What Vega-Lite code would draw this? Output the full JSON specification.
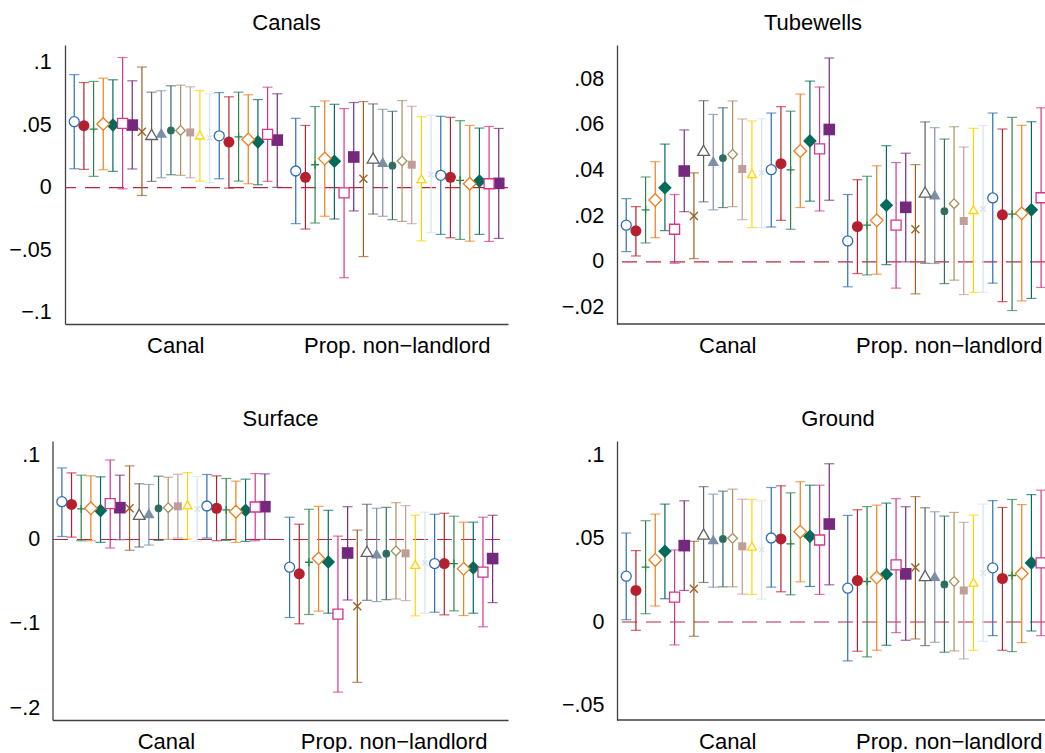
{
"$schema": "https://vega.github.io/schema/vega-lite/v6.json",
"padding": {"left": 8, "top": 12, "right": 0, "bottom": 0},
"columns": 1,
"align": "none",
"spacing": 52,
"bounds": "full",
"config": {
 "font": "Liberation Sans",
 "view": {"stroke": null},
 "axis": {"labelFont": "Liberation Sans", "labelColor": "#000", "ticks": false, "grid": false, "domainColor": "#404040", "domainWidth": 1.3},
 "axisX": {"labelFontSize": 22, "labelPadding": 11, "labelAngle": 0, "labelLimit": 0},
 "axisY": {"labelFontSize": 21.5},
 "title": {"font": "Liberation Sans", "fontSize": 22, "fontWeight": "normal", "color": "#000", "offset": 10, "frame": "group", "anchor": "middle"}
},
"concat": [
 {"hconcat": [
  {"title": {"text": "Canals"}, "width": 443, "height": 279, "data": {"name": "canals"},
   "layer": [
    {"data": {"values": [{}]}, "mark": {"type": "rule", "color": "#b8283c", "strokeWidth": 1.2, "strokeDash": [15, 9]},
     "encoding": {"y": {"datum": 0, "type": "quantitative", "scale": {"domain": [-0.109, 0.114], "nice": false, "zero": false}, "title": null,
      "axis": {"values": [-0.1, -0.05, 0, 0.05, 0.1], "labelExpr": "replace(replace(format(datum.value, '.2~f'), '0.', '.'), '-', '−')", "labelPadding": 13.8}}}},
    {"encoding": {
      "x": {"field": "g", "type": "nominal", "scale": {"domain": ["Canal", "Prop. non−landlord"], "paddingInner": 0.0398, "paddingOuter": 0.0199}, "title": null},
      "xOffset": {"field": "s", "type": "nominal", "scale": {"domain": [1,2,3,4,5,6,7,8,9,10,11,12,13,14,15,16,17,18,19,20,21,22], "paddingInner": 0, "paddingOuter": 0}},
      "color": {"field": "s", "type": "nominal", "scale": {"domain": [1,2,3,4,5,6,7,8,9,10,11,12,13,14,15,16,17,18,19,20,21,22], "range": ["#2c6db5","#b51f2e","#2a8449","#f07d1a","#006a5b","#d6338a","#74297f","#9a5f22","#5f5f5f","#7b8fa7","#2d6e60","#a6915f","#bf9d98","#ffd400","#d5e3ee","#2c6db5","#b51f2e","#2a8449","#f07d1a","#006a5b","#d6338a","#74297f"]}, "legend": null},
      "shape": {"field": "s", "type": "nominal", "legend": null, "scale": {"domain": [1,2,3,4,5,6,7,8,9,10,11,12,13,14,15,16,17,18,19,20,21,22], "range": ["circle","circle","M-1,0H1M0,-1V1","M-1,0L0,-1L1,0L0,1Z","M-1,0L0,-1L1,0L0,1Z","square","square","M-1,-1L1,1M-1,1L1,-1","triangle-up","triangle-up","circle","M-1,0L0,-1L1,0L0,1Z","square","triangle-up","M-1,-1L1,1M-1,1L1,-1","circle","circle","M-1,0H1M0,-1V1","M-1,0L0,-1L1,0L0,1Z","M-1,0L0,-1L1,0L0,1Z","square","square"]}},
      "size": {"field": "s", "type": "quantitative", "legend": null, "scale": {"type": "threshold", "domain": [1.5,2.5,3.5,4.5,5.5,6.5,7.5,8.5,9.5,10.5,11.5,12.5,13.5,14.5,15.5,16.5,17.5,18.5,19.5,20.5,21.5], "range": [100,121,64,160,185,100,135,64,137,130,60,94,64,81,30,100,121,64,160,185,100,135]}}
     },
     "layer": [
      {"mark": {"type": "rule", "strokeWidth": 1.2}, "encoding": {"y": {"field": "lo", "type": "quantitative", "scale": {"domain": [-0.109, 0.114], "nice": false, "zero": false}, "title": null}, "y2": {"field": "hi"}, "shape": null, "size": null}},
      {"mark": {"type": "tick", "orient": "horizontal", "size": 10, "thickness": 1.2}, "encoding": {"y": {"field": "lo", "type": "quantitative", "title": null}, "shape": null, "size": null}},
      {"mark": {"type": "tick", "orient": "horizontal", "size": 10, "thickness": 1.2}, "encoding": {"y": {"field": "hi", "type": "quantitative", "title": null}, "shape": null, "size": null}},
      {"transform": [{"filter": {"field": "s", "oneOf": [2,5,7,10,11,13,17,20,22]}}], "mark": {"type": "point", "filled": true, "opacity": 1, "strokeWidth": 0},
       "encoding": {"y": {"field": "b", "type": "quantitative", "title": null}}},
      {"transform": [{"filter": {"field": "s", "oneOf": [1,3,4,6,8,9,12,14,15,16,18,19,21]}}], "mark": {"type": "point", "filled": false, "fill": "white", "opacity": 1, "strokeWidth": 1.3},
       "encoding": {"y": {"field": "b", "type": "quantitative", "title": null}}}
     ]}
   ]},
  {"title": {"text": "Tubewells", "dx": -18}, "width": 428, "height": 279, "data": {"name": "tubewells"},
   "layer": [
    {"data": {"values": [{}]}, "mark": {"type": "rule", "color": "#b8283c", "strokeWidth": 1.2, "strokeDash": [15, 9]},
     "encoding": {"y": {"datum": 0, "type": "quantitative", "scale": {"domain": [-0.0272, 0.095], "nice": false, "zero": false}, "title": null,
      "axis": {"values": [-0.02, 0, 0.02, 0.04, 0.06, 0.08], "labelExpr": "replace(replace(format(datum.value, '.2~f'), '0.', '.'), '-', '−')", "labelPadding": 13.3}}}},
    {"data": {"values": [{}]}, "mark": {"type": "rule", "color": "#404040", "strokeWidth": 1.3},
     "encoding": {"y": {"datum": -0.0272, "type": "quantitative"}}},
    {"encoding": {
      "x": {"field": "g", "type": "nominal", "scale": {"domain": ["Canal", "Prop. non−landlord"], "paddingInner": 0.0398, "paddingOuter": 0.0199, "range": [0, 443]}, "title": null, "axis": {"domain": false}},
      "xOffset": {"field": "s", "type": "nominal", "scale": {"domain": [1,2,3,4,5,6,7,8,9,10,11,12,13,14,15,16,17,18,19,20,21,22], "paddingInner": 0, "paddingOuter": 0}},
      "color": {"field": "s", "type": "nominal", "scale": {"domain": [1,2,3,4,5,6,7,8,9,10,11,12,13,14,15,16,17,18,19,20,21,22], "range": ["#2c6db5","#b51f2e","#2a8449","#f07d1a","#006a5b","#d6338a","#74297f","#9a5f22","#5f5f5f","#7b8fa7","#2d6e60","#a6915f","#bf9d98","#ffd400","#d5e3ee","#2c6db5","#b51f2e","#2a8449","#f07d1a","#006a5b","#d6338a","#74297f"]}, "legend": null},
      "shape": {"field": "s", "type": "nominal", "legend": null, "scale": {"domain": [1,2,3,4,5,6,7,8,9,10,11,12,13,14,15,16,17,18,19,20,21,22], "range": ["circle","circle","M-1,0H1M0,-1V1","M-1,0L0,-1L1,0L0,1Z","M-1,0L0,-1L1,0L0,1Z","square","square","M-1,-1L1,1M-1,1L1,-1","triangle-up","triangle-up","circle","M-1,0L0,-1L1,0L0,1Z","square","triangle-up","M-1,-1L1,1M-1,1L1,-1","circle","circle","M-1,0H1M0,-1V1","M-1,0L0,-1L1,0L0,1Z","M-1,0L0,-1L1,0L0,1Z","square","square"]}},
      "size": {"field": "s", "type": "quantitative", "legend": null, "scale": {"type": "threshold", "domain": [1.5,2.5,3.5,4.5,5.5,6.5,7.5,8.5,9.5,10.5,11.5,12.5,13.5,14.5,15.5,16.5,17.5,18.5,19.5,20.5,21.5], "range": [100,121,64,160,185,100,135,64,137,130,60,94,64,81,30,100,121,64,160,185,100,135]}}
     },
     "layer": [
      {"mark": {"type": "rule", "strokeWidth": 1.2, "clip": true}, "encoding": {"y": {"field": "lo", "type": "quantitative", "scale": {"domain": [-0.0272, 0.095], "nice": false, "zero": false}, "title": null}, "y2": {"field": "hi"}, "shape": null, "size": null}},
      {"mark": {"type": "tick", "orient": "horizontal", "size": 10, "thickness": 1.2, "clip": true}, "encoding": {"y": {"field": "lo", "type": "quantitative", "title": null}, "shape": null, "size": null}},
      {"mark": {"type": "tick", "orient": "horizontal", "size": 10, "thickness": 1.2, "clip": true}, "encoding": {"y": {"field": "hi", "type": "quantitative", "title": null}, "shape": null, "size": null}},
      {"transform": [{"filter": {"field": "s", "oneOf": [2,5,7,10,11,13,17,20,22]}}], "mark": {"type": "point", "filled": true, "opacity": 1, "strokeWidth": 0, "clip": true},
       "encoding": {"y": {"field": "b", "type": "quantitative", "title": null}}},
      {"transform": [{"filter": {"field": "s", "oneOf": [1,3,4,6,8,9,12,14,15,16,18,19,21]}}], "mark": {"type": "point", "filled": false, "fill": "white", "opacity": 1, "strokeWidth": 1.3, "clip": true},
       "encoding": {"y": {"field": "b", "type": "quantitative", "title": null}}}
     ]}
   ]}
 ], "spacing": 109, "bounds": "flush"},
 {"hconcat": [
  {"title": {"text": "Surface", "dx": -6}, "width": 443, "height": 279, "data": {"name": "surface"},
   "encoding": {
      "x": {"field": "g", "type": "nominal", "scale": {"domain": ["Canal", "Prop. non−landlord"], "paddingInner": 0.0398, "paddingOuter": 0.0199, "range": [-12.5, 443]}, "title": null},
      "xOffset": {"field": "s", "type": "nominal", "scale": {"domain": [1,2,3,4,5,6,7,8,9,10,11,12,13,14,15,16,17,18,19,20,21,22], "paddingInner": 0, "paddingOuter": 0}},
      "color": {"field": "s", "type": "nominal", "scale": {"domain": [1,2,3,4,5,6,7,8,9,10,11,12,13,14,15,16,17,18,19,20,21,22], "range": ["#2c6db5","#b51f2e","#2a8449","#f07d1a","#006a5b","#d6338a","#74297f","#9a5f22","#5f5f5f","#7b8fa7","#2d6e60","#a6915f","#bf9d98","#ffd400","#d5e3ee","#2c6db5","#b51f2e","#2a8449","#f07d1a","#006a5b","#d6338a","#74297f"]}, "legend": null},
      "shape": {"field": "s", "type": "nominal", "legend": null, "scale": {"domain": [1,2,3,4,5,6,7,8,9,10,11,12,13,14,15,16,17,18,19,20,21,22], "range": ["circle","circle","M-1,0H1M0,-1V1","M-1,0L0,-1L1,0L0,1Z","M-1,0L0,-1L1,0L0,1Z","square","square","M-1,-1L1,1M-1,1L1,-1","triangle-up","triangle-up","circle","M-1,0L0,-1L1,0L0,1Z","square","triangle-up","M-1,-1L1,1M-1,1L1,-1","circle","circle","M-1,0H1M0,-1V1","M-1,0L0,-1L1,0L0,1Z","M-1,0L0,-1L1,0L0,1Z","square","square"]}},
      "size": {"field": "s", "type": "quantitative", "legend": null, "scale": {"type": "threshold", "domain": [1.5,2.5,3.5,4.5,5.5,6.5,7.5,8.5,9.5,10.5,11.5,12.5,13.5,14.5,15.5,16.5,17.5,18.5,19.5,20.5,21.5], "range": [100,121,64,160,185,100,135,64,137,130,60,94,64,81,30,100,121,64,160,185,100,135]}}
   },
   "layer": [
      {"mark": {"type": "rule", "strokeWidth": 1.2}, "encoding": {"y": {"field": "lo", "type": "quantitative", "scale": {"domain": [-0.214, 0.1166], "nice": false, "zero": false}, "title": null,
        "axis": {"values": [-0.2, -0.1, 0, 0.1], "labelExpr": "replace(replace(format(datum.value, '.2~f'), '0.', '.'), '-', '−')", "labelPadding": 12.9, "offset": 12.5,
         "grid": true, "gridColor": "#b8283c", "gridWidth": 1.2, "gridDash": [15, 9], "gridOpacity": {"condition": {"test": "datum.value === 0", "value": 1}, "value": 0}}}, "y2": {"field": "hi"}, "shape": null, "size": null}},
      {"mark": {"type": "tick", "orient": "horizontal", "size": 10, "thickness": 1.2}, "encoding": {"y": {"field": "lo", "type": "quantitative", "title": null}, "shape": null, "size": null}},
      {"mark": {"type": "tick", "orient": "horizontal", "size": 10, "thickness": 1.2}, "encoding": {"y": {"field": "hi", "type": "quantitative", "title": null}, "shape": null, "size": null}},
      {"transform": [{"filter": {"field": "s", "oneOf": [2,5,7,10,11,13,17,20,22]}}], "mark": {"type": "point", "filled": true, "opacity": 1, "strokeWidth": 0},
       "encoding": {"y": {"field": "b", "type": "quantitative", "title": null}}},
      {"transform": [{"filter": {"field": "s", "oneOf": [1,3,4,6,8,9,12,14,15,16,18,19,21]}}], "mark": {"type": "point", "filled": false, "fill": "white", "opacity": 1, "strokeWidth": 1.3},
       "encoding": {"y": {"field": "b", "type": "quantitative", "title": null}}}
   ]},
  {"title": {"text": "Ground", "dx": 7}, "width": 428, "height": 279, "data": {"name": "ground"},
   "layer": [
    {"data": {"values": [{}]}, "mark": {"type": "rule", "color": "#b8283c", "strokeWidth": 1.2, "strokeDash": [15, 9]},
     "encoding": {"y": {"datum": 0, "type": "quantitative", "scale": {"domain": [-0.059, 0.109], "nice": false, "zero": false}, "title": null,
      "axis": {"values": [-0.05, 0, 0.05, 0.1], "labelExpr": "replace(replace(format(datum.value, '.2~f'), '0.', '.'), '-', '−')", "labelPadding": 13}}}},
    {"data": {"values": [{}]}, "mark": {"type": "rule", "color": "#404040", "strokeWidth": 1.3},
     "encoding": {"y": {"datum": -0.059, "type": "quantitative"}}},
    {"encoding": {
      "x": {"field": "g", "type": "nominal", "scale": {"domain": ["Canal", "Prop. non−landlord"], "paddingInner": 0.0398, "paddingOuter": 0.0199, "range": [0, 443]}, "title": null, "axis": {"domain": false}},
      "xOffset": {"field": "s", "type": "nominal", "scale": {"domain": [1,2,3,4,5,6,7,8,9,10,11,12,13,14,15,16,17,18,19,20,21,22], "paddingInner": 0, "paddingOuter": 0}},
      "color": {"field": "s", "type": "nominal", "scale": {"domain": [1,2,3,4,5,6,7,8,9,10,11,12,13,14,15,16,17,18,19,20,21,22], "range": ["#2c6db5","#b51f2e","#2a8449","#f07d1a","#006a5b","#d6338a","#74297f","#9a5f22","#5f5f5f","#7b8fa7","#2d6e60","#a6915f","#bf9d98","#ffd400","#d5e3ee","#2c6db5","#b51f2e","#2a8449","#f07d1a","#006a5b","#d6338a","#74297f"]}, "legend": null},
      "shape": {"field": "s", "type": "nominal", "legend": null, "scale": {"domain": [1,2,3,4,5,6,7,8,9,10,11,12,13,14,15,16,17,18,19,20,21,22], "range": ["circle","circle","M-1,0H1M0,-1V1","M-1,0L0,-1L1,0L0,1Z","M-1,0L0,-1L1,0L0,1Z","square","square","M-1,-1L1,1M-1,1L1,-1","triangle-up","triangle-up","circle","M-1,0L0,-1L1,0L0,1Z","square","triangle-up","M-1,-1L1,1M-1,1L1,-1","circle","circle","M-1,0H1M0,-1V1","M-1,0L0,-1L1,0L0,1Z","M-1,0L0,-1L1,0L0,1Z","square","square"]}},
      "size": {"field": "s", "type": "quantitative", "legend": null, "scale": {"type": "threshold", "domain": [1.5,2.5,3.5,4.5,5.5,6.5,7.5,8.5,9.5,10.5,11.5,12.5,13.5,14.5,15.5,16.5,17.5,18.5,19.5,20.5,21.5], "range": [100,121,64,160,185,100,135,64,137,130,60,94,64,81,30,100,121,64,160,185,100,135]}}
     },
     "layer": [
      {"mark": {"type": "rule", "strokeWidth": 1.2, "clip": true}, "encoding": {"y": {"field": "lo", "type": "quantitative", "scale": {"domain": [-0.059, 0.109], "nice": false, "zero": false}, "title": null}, "y2": {"field": "hi"}, "shape": null, "size": null}},
      {"mark": {"type": "tick", "orient": "horizontal", "size": 10, "thickness": 1.2, "clip": true}, "encoding": {"y": {"field": "lo", "type": "quantitative", "title": null}, "shape": null, "size": null}},
      {"mark": {"type": "tick", "orient": "horizontal", "size": 10, "thickness": 1.2, "clip": true}, "encoding": {"y": {"field": "hi", "type": "quantitative", "title": null}, "shape": null, "size": null}},
      {"transform": [{"filter": {"field": "s", "oneOf": [2,5,7,10,11,13,17,20,22]}}], "mark": {"type": "point", "filled": true, "opacity": 1, "strokeWidth": 0, "clip": true},
       "encoding": {"y": {"field": "b", "type": "quantitative", "title": null}}},
      {"transform": [{"filter": {"field": "s", "oneOf": [1,3,4,6,8,9,12,14,15,16,18,19,21]}}], "mark": {"type": "point", "filled": false, "fill": "white", "opacity": 1, "strokeWidth": 1.3, "clip": true},
       "encoding": {"y": {"field": "b", "type": "quantitative", "title": null}}}
     ]}
   ]}
 ], "spacing": 109, "bounds": "flush"}
],
"datasets": {
 "canals": [
  {"g":"Canal","s":1,"b":0.0527,"lo":0.0151,"hi":0.0903},
  {"g":"Canal","s":2,"b":0.0495,"lo":0.0146,"hi":0.0840},
  {"g":"Canal","s":3,"b":0.0468,"lo":0.0090,"hi":0.0849},
  {"g":"Canal","s":4,"b":0.0508,"lo":0.0143,"hi":0.0875},
  {"g":"Canal","s":5,"b":0.0500,"lo":0.0130,"hi":0.0862},
  {"g":"Canal","s":6,"b":0.0513,"lo":-0.0010,"hi":0.1040},
  {"g":"Canal","s":7,"b":0.0500,"lo":0.0149,"hi":0.0854},
  {"g":"Canal","s":8,"b":0.0447,"lo":-0.0063,"hi":0.0964},
  {"g":"Canal","s":9,"b":0.0425,"lo":0.0050,"hi":0.0763},
  {"g":"Canal","s":10,"b":0.0438,"lo":0.0079,"hi":0.0774},
  {"g":"Canal","s":11,"b":0.0457,"lo":0.0103,"hi":0.0814},
  {"g":"Canal","s":12,"b":0.0457,"lo":0.0098,"hi":0.0819},
  {"g":"Canal","s":13,"b":0.0441,"lo":0.0079,"hi":0.0806},
  {"g":"Canal","s":14,"b":0.0420,"lo":0.0052,"hi":0.0776},
  {"g":"Canal","s":15,"b":0.0398,"lo":0.0039,"hi":0.0750},
  {"g":"Canal","s":16,"b":0.0414,"lo":0.0071,"hi":0.0760},
  {"g":"Canal","s":17,"b":0.0364,"lo":-0.0004,"hi":0.0726},
  {"g":"Canal","s":18,"b":0.0406,"lo":0.0052,"hi":0.0763},
  {"g":"Canal","s":19,"b":0.0385,"lo":0.0031,"hi":0.0742},
  {"g":"Canal","s":20,"b":0.0366,"lo":0.0023,"hi":0.0704},
  {"g":"Canal","s":21,"b":0.0425,"lo":0.0050,"hi":0.0803},
  {"g":"Canal","s":22,"b":0.0380,"lo":0.0002,"hi":0.0750},
  {"g":"Prop. non−landlord","s":1,"b":0.0133,"lo":-0.0288,"hi":0.0554},
  {"g":"Prop. non−landlord","s":2,"b":0.0082,"lo":-0.0331,"hi":0.0497},
  {"g":"Prop. non−landlord","s":3,"b":0.0183,"lo":-0.0283,"hi":0.0648},
  {"g":"Prop. non−landlord","s":4,"b":0.0232,"lo":-0.0229,"hi":0.0693},
  {"g":"Prop. non−landlord","s":5,"b":0.0211,"lo":-0.0251,"hi":0.0666},
  {"g":"Prop. non−landlord","s":6,"b":-0.0042,"lo":-0.0720,"hi":0.0632},
  {"g":"Prop. non−landlord","s":7,"b":0.0245,"lo":-0.0186,"hi":0.0680},
  {"g":"Prop. non−landlord","s":8,"b":0.0071,"lo":-0.0551,"hi":0.0688},
  {"g":"Prop. non−landlord","s":9,"b":0.0237,"lo":-0.0211,"hi":0.0669},
  {"g":"Prop. non−landlord","s":10,"b":0.0205,"lo":-0.0229,"hi":0.0626},
  {"g":"Prop. non−landlord","s":11,"b":0.0175,"lo":-0.0256,"hi":0.0610},
  {"g":"Prop. non−landlord","s":12,"b":0.0213,"lo":-0.0270,"hi":0.0696},
  {"g":"Prop. non−landlord","s":13,"b":0.0183,"lo":-0.0288,"hi":0.0650},
  {"g":"Prop. non−landlord","s":14,"b":0.0071,"lo":-0.0425,"hi":0.0567},
  {"g":"Prop. non−landlord","s":15,"b":0.0106,"lo":-0.0360,"hi":0.0578},
  {"g":"Prop. non−landlord","s":16,"b":0.0098,"lo":-0.0374,"hi":0.0570},
  {"g":"Prop. non−landlord","s":17,"b":0.0082,"lo":-0.0401,"hi":0.0562},
  {"g":"Prop. non−landlord","s":18,"b":0.0058,"lo":-0.0414,"hi":0.0535},
  {"g":"Prop. non−landlord","s":19,"b":0.0031,"lo":-0.0428,"hi":0.0497},
  {"g":"Prop. non−landlord","s":20,"b":0.0052,"lo":-0.0374,"hi":0.0476},
  {"g":"Prop. non−landlord","s":21,"b":0.0031,"lo":-0.0430,"hi":0.0489},
  {"g":"Prop. non−landlord","s":22,"b":0.0034,"lo":-0.0406,"hi":0.0473}
 ],
 "tubewells": [
  {"g":"Canal","s":1,"b":0.0161,"lo":0.0045,"hi":0.0277},
  {"g":"Canal","s":2,"b":0.0136,"lo":0.0026,"hi":0.0242},
  {"g":"Canal","s":3,"b":0.0228,"lo":0.0083,"hi":0.0372},
  {"g":"Canal","s":4,"b":0.0271,"lo":0.0106,"hi":0.0439},
  {"g":"Canal","s":5,"b":0.0325,"lo":0.0137,"hi":0.0516},
  {"g":"Canal","s":6,"b":0.0143,"lo":-0.0006,"hi":0.0295},
  {"g":"Canal","s":7,"b":0.0398,"lo":0.0220,"hi":0.0578},
  {"g":"Canal","s":8,"b":0.0201,"lo":0.0014,"hi":0.0390},
  {"g":"Canal","s":9,"b":0.0489,"lo":0.0263,"hi":0.0706},
  {"g":"Canal","s":10,"b":0.0442,"lo":0.0228,"hi":0.0646},
  {"g":"Canal","s":11,"b":0.0455,"lo":0.0238,"hi":0.0675},
  {"g":"Canal","s":12,"b":0.0471,"lo":0.0242,"hi":0.0705},
  {"g":"Canal","s":13,"b":0.0407,"lo":0.0185,"hi":0.0626},
  {"g":"Canal","s":14,"b":0.0386,"lo":0.0150,"hi":0.0617},
  {"g":"Canal","s":15,"b":0.0390,"lo":0.0150,"hi":0.0627},
  {"g":"Canal","s":16,"b":0.0404,"lo":0.0153,"hi":0.0652},
  {"g":"Canal","s":17,"b":0.0430,"lo":0.0182,"hi":0.0680},
  {"g":"Canal","s":18,"b":0.0403,"lo":0.0143,"hi":0.0660},
  {"g":"Canal","s":19,"b":0.0486,"lo":0.0238,"hi":0.0735},
  {"g":"Canal","s":20,"b":0.0530,"lo":0.0266,"hi":0.0792},
  {"g":"Canal","s":21,"b":0.0495,"lo":0.0223,"hi":0.0766},
  {"g":"Canal","s":22,"b":0.0580,"lo":0.0270,"hi":0.0893},
  {"g":"Prop. non−landlord","s":1,"b":0.0092,"lo":-0.0109,"hi":0.0295},
  {"g":"Prop. non−landlord","s":2,"b":0.0155,"lo":-0.0051,"hi":0.0360},
  {"g":"Prop. non−landlord","s":3,"b":0.0161,"lo":-0.0057,"hi":0.0375},
  {"g":"Prop. non−landlord","s":4,"b":0.0182,"lo":-0.0054,"hi":0.0421},
  {"g":"Prop. non−landlord","s":5,"b":0.0248,"lo":-0.0012,"hi":0.0509},
  {"g":"Prop. non−landlord","s":6,"b":0.0161,"lo":-0.0115,"hi":0.0435},
  {"g":"Prop. non−landlord","s":7,"b":0.0239,"lo":0.0000,"hi":0.0476},
  {"g":"Prop. non−landlord","s":8,"b":0.0143,"lo":-0.0140,"hi":0.0426},
  {"g":"Prop. non−landlord","s":9,"b":0.0306,"lo":-0.0006,"hi":0.0613},
  {"g":"Prop. non−landlord","s":10,"b":0.0295,"lo":-0.0007,"hi":0.0588},
  {"g":"Prop. non−landlord","s":11,"b":0.0222,"lo":-0.0095,"hi":0.0538},
  {"g":"Prop. non−landlord","s":12,"b":0.0255,"lo":-0.0080,"hi":0.0592},
  {"g":"Prop. non−landlord","s":13,"b":0.0179,"lo":-0.0143,"hi":0.0503},
  {"g":"Prop. non−landlord","s":14,"b":0.0229,"lo":-0.0134,"hi":0.0585},
  {"g":"Prop. non−landlord","s":15,"b":0.0232,"lo":-0.0133,"hi":0.0597},
  {"g":"Prop. non−landlord","s":16,"b":0.0280,"lo":-0.0093,"hi":0.0652},
  {"g":"Prop. non−landlord","s":17,"b":0.0206,"lo":-0.0174,"hi":0.0582},
  {"g":"Prop. non−landlord","s":18,"b":0.0209,"lo":-0.0213,"hi":0.0633},
  {"g":"Prop. non−landlord","s":19,"b":0.0213,"lo":-0.0171,"hi":0.0598},
  {"g":"Prop. non−landlord","s":20,"b":0.0228,"lo":-0.0160,"hi":0.0614},
  {"g":"Prop. non−landlord","s":21,"b":0.0281,"lo":-0.0112,"hi":0.0675},
  {"g":"Prop. non−landlord","s":22,"b":0.0300,"lo":-0.0100,"hi":0.0700}
 ],
 "surface": [
  {"g":"Canal","s":1,"b":0.0447,"lo":0.0035,"hi":0.0847},
  {"g":"Canal","s":2,"b":0.0415,"lo":0.0027,"hi":0.0788},
  {"g":"Canal","s":3,"b":0.0361,"lo":-0.0016,"hi":0.0761},
  {"g":"Canal","s":4,"b":0.0369,"lo":-0.0016,"hi":0.0753},
  {"g":"Canal","s":5,"b":0.0341,"lo":-0.0035,"hi":0.0741},
  {"g":"Canal","s":6,"b":0.0424,"lo":-0.0102,"hi":0.0941},
  {"g":"Canal","s":7,"b":0.0376,"lo":-0.0004,"hi":0.0761},
  {"g":"Canal","s":8,"b":0.0369,"lo":-0.0129,"hi":0.0871},
  {"g":"Canal","s":9,"b":0.0298,"lo":-0.0090,"hi":0.0659},
  {"g":"Canal","s":10,"b":0.0310,"lo":-0.0067,"hi":0.0651},
  {"g":"Canal","s":11,"b":0.0369,"lo":-0.0012,"hi":0.0749},
  {"g":"Canal","s":12,"b":0.0376,"lo":0.0000,"hi":0.0737},
  {"g":"Canal","s":13,"b":0.0392,"lo":0.0016,"hi":0.0773},
  {"g":"Canal","s":14,"b":0.0408,"lo":0.0004,"hi":0.0792},
  {"g":"Canal","s":15,"b":0.0361,"lo":-0.0024,"hi":0.0745},
  {"g":"Canal","s":16,"b":0.0396,"lo":0.0016,"hi":0.0769},
  {"g":"Canal","s":17,"b":0.0369,"lo":-0.0016,"hi":0.0753},
  {"g":"Canal","s":18,"b":0.0349,"lo":-0.0012,"hi":0.0722},
  {"g":"Canal","s":19,"b":0.0329,"lo":-0.0035,"hi":0.0690},
  {"g":"Canal","s":20,"b":0.0345,"lo":-0.0024,"hi":0.0714},
  {"g":"Canal","s":21,"b":0.0384,"lo":-0.0016,"hi":0.0780},
  {"g":"Canal","s":22,"b":0.0388,"lo":0.0000,"hi":0.0776},
  {"g":"Prop. non−landlord","s":1,"b":-0.0329,"lo":-0.0926,"hi":0.0263},
  {"g":"Prop. non−landlord","s":2,"b":-0.0408,"lo":-0.1000,"hi":0.0180},
  {"g":"Prop. non−landlord","s":3,"b":-0.0271,"lo":-0.0890,"hi":0.0357},
  {"g":"Prop. non−landlord","s":4,"b":-0.0227,"lo":-0.0851,"hi":0.0392},
  {"g":"Prop. non−landlord","s":5,"b":-0.0267,"lo":-0.0875,"hi":0.0345},
  {"g":"Prop. non−landlord","s":6,"b":-0.0886,"lo":-0.1810,"hi":0.0039},
  {"g":"Prop. non−landlord","s":7,"b":-0.0161,"lo":-0.0718,"hi":0.0388},
  {"g":"Prop. non−landlord","s":8,"b":-0.0792,"lo":-0.1694,"hi":0.0110},
  {"g":"Prop. non−landlord","s":9,"b":-0.0141,"lo":-0.0722,"hi":0.0416},
  {"g":"Prop. non−landlord","s":10,"b":-0.0169,"lo":-0.0737,"hi":0.0369},
  {"g":"Prop. non−landlord","s":11,"b":-0.0169,"lo":-0.0714,"hi":0.0380},
  {"g":"Prop. non−landlord","s":12,"b":-0.0137,"lo":-0.0706,"hi":0.0435},
  {"g":"Prop. non−landlord","s":13,"b":-0.0165,"lo":-0.0725,"hi":0.0400},
  {"g":"Prop. non−landlord","s":14,"b":-0.0298,"lo":-0.0906,"hi":0.0286},
  {"g":"Prop. non−landlord","s":15,"b":-0.0278,"lo":-0.0875,"hi":0.0322},
  {"g":"Prop. non−landlord","s":16,"b":-0.0286,"lo":-0.0863,"hi":0.0298},
  {"g":"Prop. non−landlord","s":17,"b":-0.0286,"lo":-0.0894,"hi":0.0310},
  {"g":"Prop. non−landlord","s":18,"b":-0.0286,"lo":-0.0847,"hi":0.0275},
  {"g":"Prop. non−landlord","s":19,"b":-0.0349,"lo":-0.0902,"hi":0.0204},
  {"g":"Prop. non−landlord","s":20,"b":-0.0337,"lo":-0.0875,"hi":0.0204},
  {"g":"Prop. non−landlord","s":21,"b":-0.0388,"lo":-0.1035,"hi":0.0263},
  {"g":"Prop. non−landlord","s":22,"b":-0.0227,"lo":-0.0749,"hi":0.0286}
 ],
 "ground": [
  {"g":"Canal","s":1,"b":0.0276,"lo":0.0014,"hi":0.0536},
  {"g":"Canal","s":2,"b":0.0190,"lo":-0.0050,"hi":0.0430},
  {"g":"Canal","s":3,"b":0.0330,"lo":0.0050,"hi":0.0610},
  {"g":"Canal","s":4,"b":0.0374,"lo":0.0096,"hi":0.0650},
  {"g":"Canal","s":5,"b":0.0426,"lo":0.0140,"hi":0.0710},
  {"g":"Canal","s":6,"b":0.0150,"lo":-0.0138,"hi":0.0434},
  {"g":"Canal","s":7,"b":0.0460,"lo":0.0190,"hi":0.0730},
  {"g":"Canal","s":8,"b":0.0200,"lo":-0.0086,"hi":0.0486},
  {"g":"Canal","s":9,"b":0.0530,"lo":0.0238,"hi":0.0815},
  {"g":"Canal","s":10,"b":0.0498,"lo":0.0210,"hi":0.0770},
  {"g":"Canal","s":11,"b":0.0500,"lo":0.0212,"hi":0.0788},
  {"g":"Canal","s":12,"b":0.0504,"lo":0.0212,"hi":0.0800},
  {"g":"Canal","s":13,"b":0.0456,"lo":0.0168,"hi":0.0740},
  {"g":"Canal","s":14,"b":0.0456,"lo":0.0166,"hi":0.0738},
  {"g":"Canal","s":15,"b":0.0436,"lo":0.0138,"hi":0.0730},
  {"g":"Canal","s":16,"b":0.0506,"lo":0.0210,"hi":0.0810},
  {"g":"Canal","s":17,"b":0.0500,"lo":0.0182,"hi":0.0820},
  {"g":"Canal","s":18,"b":0.0470,"lo":0.0164,"hi":0.0778},
  {"g":"Canal","s":19,"b":0.0544,"lo":0.0242,"hi":0.0845},
  {"g":"Canal","s":20,"b":0.0516,"lo":0.0214,"hi":0.0824},
  {"g":"Canal","s":21,"b":0.0494,"lo":0.0166,"hi":0.0824},
  {"g":"Canal","s":22,"b":0.0590,"lo":0.0224,"hi":0.0953},
  {"g":"Prop. non−landlord","s":1,"b":0.0204,"lo":-0.0234,"hi":0.0642},
  {"g":"Prop. non−landlord","s":2,"b":0.0250,"lo":-0.0176,"hi":0.0676},
  {"g":"Prop. non−landlord","s":3,"b":0.0244,"lo":-0.0210,"hi":0.0695},
  {"g":"Prop. non−landlord","s":4,"b":0.0268,"lo":-0.0170,"hi":0.0704},
  {"g":"Prop. non−landlord","s":5,"b":0.0288,"lo":-0.0140,"hi":0.0716},
  {"g":"Prop. non−landlord","s":6,"b":0.0344,"lo":-0.0064,"hi":0.0743},
  {"g":"Prop. non−landlord","s":7,"b":0.0290,"lo":-0.0110,"hi":0.0694},
  {"g":"Prop. non−landlord","s":8,"b":0.0328,"lo":-0.0102,"hi":0.0755},
  {"g":"Prop. non−landlord","s":9,"b":0.0280,"lo":-0.0142,"hi":0.0688},
  {"g":"Prop. non−landlord","s":10,"b":0.0276,"lo":-0.0122,"hi":0.0664},
  {"g":"Prop. non−landlord","s":11,"b":0.0226,"lo":-0.0182,"hi":0.0638},
  {"g":"Prop. non−landlord","s":12,"b":0.0244,"lo":-0.0174,"hi":0.0660},
  {"g":"Prop. non−landlord","s":13,"b":0.0190,"lo":-0.0222,"hi":0.0600},
  {"g":"Prop. non−landlord","s":14,"b":0.0240,"lo":-0.0170,"hi":0.0644},
  {"g":"Prop. non−landlord","s":15,"b":0.0296,"lo":-0.0116,"hi":0.0710},
  {"g":"Prop. non−landlord","s":16,"b":0.0326,"lo":-0.0082,"hi":0.0731},
  {"g":"Prop. non−landlord","s":17,"b":0.0262,"lo":-0.0170,"hi":0.0690},
  {"g":"Prop. non−landlord","s":18,"b":0.0280,"lo":-0.0178,"hi":0.0738},
  {"g":"Prop. non−landlord","s":19,"b":0.0292,"lo":-0.0124,"hi":0.0707},
  {"g":"Prop. non−landlord","s":20,"b":0.0356,"lo":-0.0054,"hi":0.0767},
  {"g":"Prop. non−landlord","s":21,"b":0.0356,"lo":-0.0082,"hi":0.0794},
  {"g":"Prop. non−landlord","s":22,"b":0.0350,"lo":-0.0080,"hi":0.0780}
 ]
}
}
